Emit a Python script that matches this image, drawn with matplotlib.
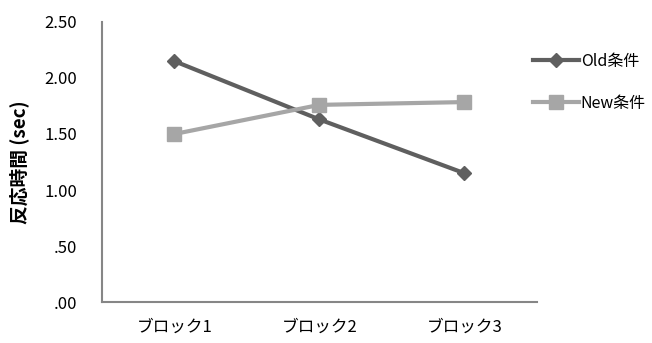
import numpy as np
import matplotlib
matplotlib.use("Agg")
import matplotlib.pyplot as plt

plt.rcParams['font.family'] = ['Noto Sans CJK JP', 'DejaVu Sans']

# データ
blocks = ['ブロック1', 'ブロック2', 'ブロック3']
old_rt = [2.15, 1.63, 1.15]
new_rt = [1.50, 1.76, 1.785]
yticks = [0.0, 0.5, 1.0, 1.5, 2.0, 2.5]
ytick_labels = ['.00', '.50', '1.00', '1.50', '2.00', '2.50']

fig = plt.figure(figsize=(6.52, 3.43), dpi=100)
ax = fig.add_axes([0.1564, 0.1195, 0.667, 0.8164])

x = np.arange(len(blocks))
ax.plot(x, old_rt, color='#5f5f5f', lw=3, marker='D', ms=7, label='Old条件')
ax.plot(x, new_rt, color='#a6a6a6', lw=3, marker='s', ms=10, label='New条件')

ax.set_xlim(-0.5, 2.5)
ax.set_ylim(0, 2.5)
ax.set_xticks(x)
ax.set_xticklabels(blocks, fontsize=12)
ax.set_yticks(yticks)
ax.set_yticklabels(ytick_labels, fontsize=12)
ax.tick_params(length=0)
ax.tick_params(axis='y', pad=18)
ax.tick_params(axis='x', pad=12)

for s in ['top', 'right']:
    ax.spines[s].set_visible(False)
for s in ['left', 'bottom']:
    ax.spines[s].set_color('#868686')
    ax.spines[s].set_linewidth(1.5)

ax.set_ylabel('反応時間 (sec)', fontsize=13.5, fontweight='bold', labelpad=11)

fig.legend(loc='upper left', bbox_to_anchor=(0.795, 0.888), frameon=False,
           fontsize=11.5, handlelength=2.9, handletextpad=0.1, labelspacing=1.55)

fig.savefig('out.png', dpi=100)
